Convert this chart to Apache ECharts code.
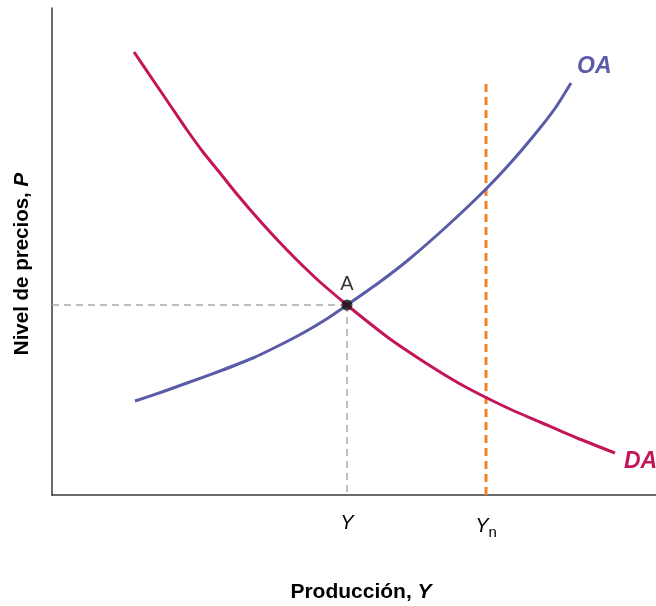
<!DOCTYPE html>
<html>
<head>
<meta charset="utf-8">
<script src="https://cdn.jsdelivr.net/npm/echarts@6/dist/echarts.min.js"></script>
<style>html,body{margin:0;padding:0;background:#fff}#c{width:656px;height:606px}</style>
</head>
<body>
<div id="c"></div>
<script>
// Data (output, price level), in chart units
const daCurve = [[82,443],[101,415],[118,390],[135,365],[151,343],[168,322],[184,302],[201,282],[218,263],[235,245],[251,229],[268,213],[295,190],[316,173],[338,156],[363,139],[388,123],[410,110],[433,98],[460,85],[488,73],[525,57],[563,42]];
const oaCurve = [[83,94],[110,103],[135,112],[168,124],[201,137],[226,149],[251,162],[273,175],[295,190],[325,211],[355,234],[394,268],[433,305],[462,336],[488,367],[504,388],[519,412]];
const pointA = [295,190];
const yNatural = 434;
const yNaturalTop = 412;
const tickValues = [295, 434];
const tickLabels = ['{i|Y}', '{i|Y}{s|n}'];
const curveNames = ['DA', 'OA'];

const chart = echarts.init(document.getElementById('c'));
const FONT = 'Arial, "Liberation Sans", sans-serif';
chart.setOption({
  animation: false,
  backgroundColor: '#fff',
  grid: {left: 52, top: 8, right: 0, bottom: 111},
  xAxis: {
    type: 'value', min: 0, max: 604,
    axisLine: {show: true, lineStyle: {color: '#3a3a3a', width: 1.5}},
    axisTick: {show: false},
    splitLine: {show: false},
    axisLabel: {
      customValues: tickValues,
      margin: 18,
      formatter: function (v) { return tickLabels[tickValues.indexOf(v)] || ''; },
      rich: {
        i: {fontFamily: FONT, fontStyle: 'italic', fontSize: 20, color: '#000'},
        s: {fontFamily: FONT, fontSize: 15, color: '#000', padding: [12, 0, 0, 0]}
      }
    }
  },
  yAxis: {
    type: 'value', min: 0, max: 487,
    axisLine: {show: true, lineStyle: {color: '#3a3a3a', width: 1.5}},
    axisTick: {show: false},
    splitLine: {show: false},
    axisLabel: {show: false}
  },
  graphic: [
    {type: 'text', x: 361, y: 592, style: {text: '{a|Producción, }{b|Y}', align: 'center', verticalAlign: 'middle',
      rich: {a: {fontFamily: FONT, fontWeight: 'bold', fontSize: 21, fill: '#000'},
             b: {fontFamily: FONT, fontWeight: 'bold', fontStyle: 'italic', fontSize: 21, fill: '#000'}}}},
    {type: 'text', x: 22, y: 264, rotation: Math.PI / 2, style: {text: '{a|Nivel de precios, }{b|P}', align: 'center', verticalAlign: 'middle',
      rich: {a: {fontFamily: FONT, fontWeight: 'bold', fontSize: 20.5, fill: '#000'},
             b: {fontFamily: FONT, fontWeight: 'bold', fontStyle: 'italic', fontSize: 20.5, fill: '#000'}}}}
  ],
  series: [
    {type: 'line', data: [[0, pointA[1]], pointA], symbol: 'none', silent: true,
      lineStyle: {color: '#a8a8a8', width: 1.5, type: [7, 5]}},
    {type: 'line', data: [pointA, [pointA[0], 0]], symbol: 'none', silent: true,
      lineStyle: {color: '#a8a8a8', width: 1.5, type: [7, 5]}},
    {type: 'line', data: [[yNatural, 0], [yNatural, yNaturalTop]], symbol: 'none', silent: true,
      lineStyle: {color: '#ef8326', width: 3, type: [8, 5]}},
    {type: 'line', name: curveNames[1], data: oaCurve, smooth: 0.2, symbol: 'none',
      lineStyle: {color: '#5a5ca8', width: 3},
      endLabel: {show: true, formatter: curveNames[1], offset: [-2, -16], fontFamily: FONT, fontSize: 23, fontWeight: 'bold', fontStyle: 'italic', color: '#5a5ca8'}},
    {type: 'line', name: curveNames[0], data: daCurve, smooth: 0.2, symbol: 'none',
      lineStyle: {color: '#c4155a', width: 3},
      endLabel: {show: true, formatter: curveNames[0], offset: [1, 9], fontFamily: FONT, fontSize: 23, fontWeight: 'bold', fontStyle: 'italic', color: '#c4155a'}},
    {type: 'scatter', data: [pointA], symbolSize: 11, itemStyle: {color: '#111'}, z: 5,
      label: {show: true, position: 'top', distance: 5, formatter: 'A', fontFamily: FONT, fontSize: 20, color: '#000'}}
  ]
});
</script>
</body>
</html>
